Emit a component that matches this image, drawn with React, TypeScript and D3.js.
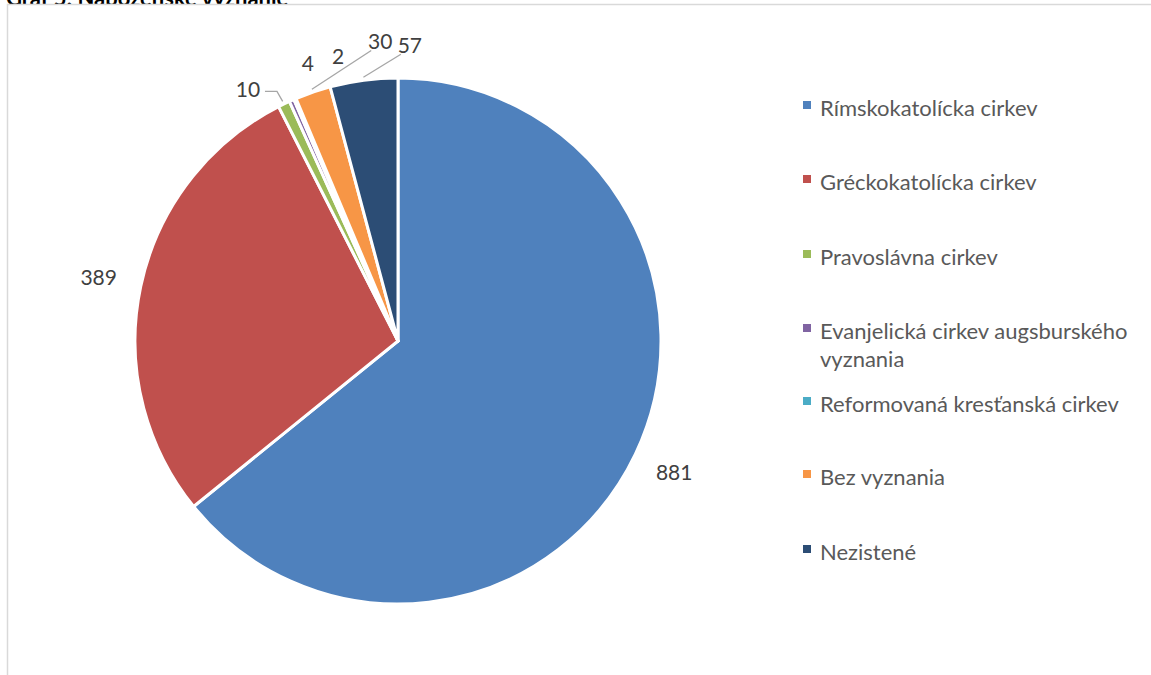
import React from 'react';
import * as d3 from 'd3';

const title = 'Graf 5: Náboženské vyznanie';
const categories = [
  'Rímskokatolícka cirkev',
  'Gréckokatolícka cirkev',
  'Pravoslávna cirkev',
  'Evanjelická cirkev augsburského vyznania',
  'Reformovaná kresťanská cirkev',
  'Bez vyznania',
  'Nezistené',
];
const values = [881, 389, 10, 4, 2, 30, 57];
const colors = ['#4f81bd', '#c0504d', '#9bbb59', '#8064a2', '#4bacc6', '#f79646', '#2c4d75'];
const legendLines = [
  ['Rímskokatolícka cirkev'],
  ['Gréckokatolícka cirkev'],
  ['Pravoslávna cirkev'],
  ['Evanjelická cirkev augsburského', 'vyznania'],
  ['Reformovaná kresťanská cirkev'],
  ['Bez vyznania'],
  ['Nezistené'],
];

// label layout (polar, degrees clockwise from top); null angle = slice mid angle
const labelLayout: { angle: number | null; radius: number; leader: boolean }[] = [
  { angle: null, radius: 306, leader: false },
  { angle: null, radius: 306, leader: false },
  { angle: 329.2, radius: 293, leader: true },
  { angle: 342, radius: 292, leader: false },
  { angle: 348.1, radius: 291, leader: false },
  { angle: 356.6, radius: 300, leader: true },
  { angle: 2.3, radius: 296, leader: true },
];

const W = 1151;
const H = 675;
const cx = 398;
const cy = 341;
const R = 263;
const FONT = 'Lato, "Open Sans", sans-serif';

export default function App() {
  const pie = d3.pie<number>().sort(null).value((d) => d);
  const arcs = pie(values);
  const arcGen = d3.arc<d3.PieArcDatum<number>>().innerRadius(0).outerRadius(R);

  const polar = (deg: number, r: number) => {
    const a = (deg * Math.PI) / 180;
    return [cx + r * Math.sin(a), cy - r * Math.cos(a)];
  };

  const legendBaselines = [116, 190, 265, 339, 412, 485, 560];

  return (
    <svg width={W} height={H} style={{ position: 'absolute', left: 0, top: 0 }} xmlns="http://www.w3.org/2000/svg">
      <rect x={0} y={0} width={W} height={H} fill="#fff" />
      <text x={6} y={6} fontFamily={FONT} fontWeight={700} fontSize={22} fill="#000">{title}</text>
      <rect x={7.5} y={4.5} width={W + 10} height={H + 10} fill="#fff" stroke="#d9d9d9" strokeWidth={1.5} />
      <g transform={`translate(${cx},${cy})`}>
        {arcs.map((a, i) => (
          <path key={i} d={arcGen(a) || ''} fill={colors[i]} stroke="#fff" strokeWidth={3} strokeLinejoin="round" />
        ))}
      </g>
      {arcs.map((a, i) => {
        const lay = labelLayout[i];
        const mid = (((a.startAngle + a.endAngle) / 2) * 180) / Math.PI;
        const ang = lay.angle === null ? mid : lay.angle;
        const [lx, ly] = polar(ang, lay.radius);
        const txt = String(values[i]);
        const tw = txt.length * 12;
        let leader: string | null = null;
        if (lay.leader) {
          const [tx, ty] = polar(mid, R + 3);
          if (tx > lx + tw / 2 + 4 && ty > ly - 10) {
            const sx = lx + tw / 2 + 5;
            const sy = ly + 2;
            leader = `M${sx},${sy}L${sx + 12},${sy}L${tx},${ty}`;
          } else {
            const sx = tx < lx ? lx - tw / 2 + 3 : lx;
            const sy = ly + 9;
            leader = `M${sx},${sy}L${tx},${ty}`;
          }
        }
        return (
          <g key={i}>
            {leader && <path d={leader} fill="none" stroke="#a6a6a6" strokeWidth={1.3} />}
            <text x={lx} y={ly + 7.5} textAnchor="middle" fontFamily={FONT} fontSize={21} fill="#404040">{txt}</text>
          </g>
        );
      })}
      {categories.map((c, i) => {
        const by = legendBaselines[i];
        return (
          <g key={c}>
            <rect x={803} y={by - 15} width={8} height={8} fill={colors[i]} />
            {legendLines[i].map((ln, j) => (
              <text key={j} x={820} y={by + j * 28} fontFamily={FONT} fontSize={22} fill="#595959">{ln}</text>
            ))}
          </g>
        );
      })}
    </svg>
  );
}
